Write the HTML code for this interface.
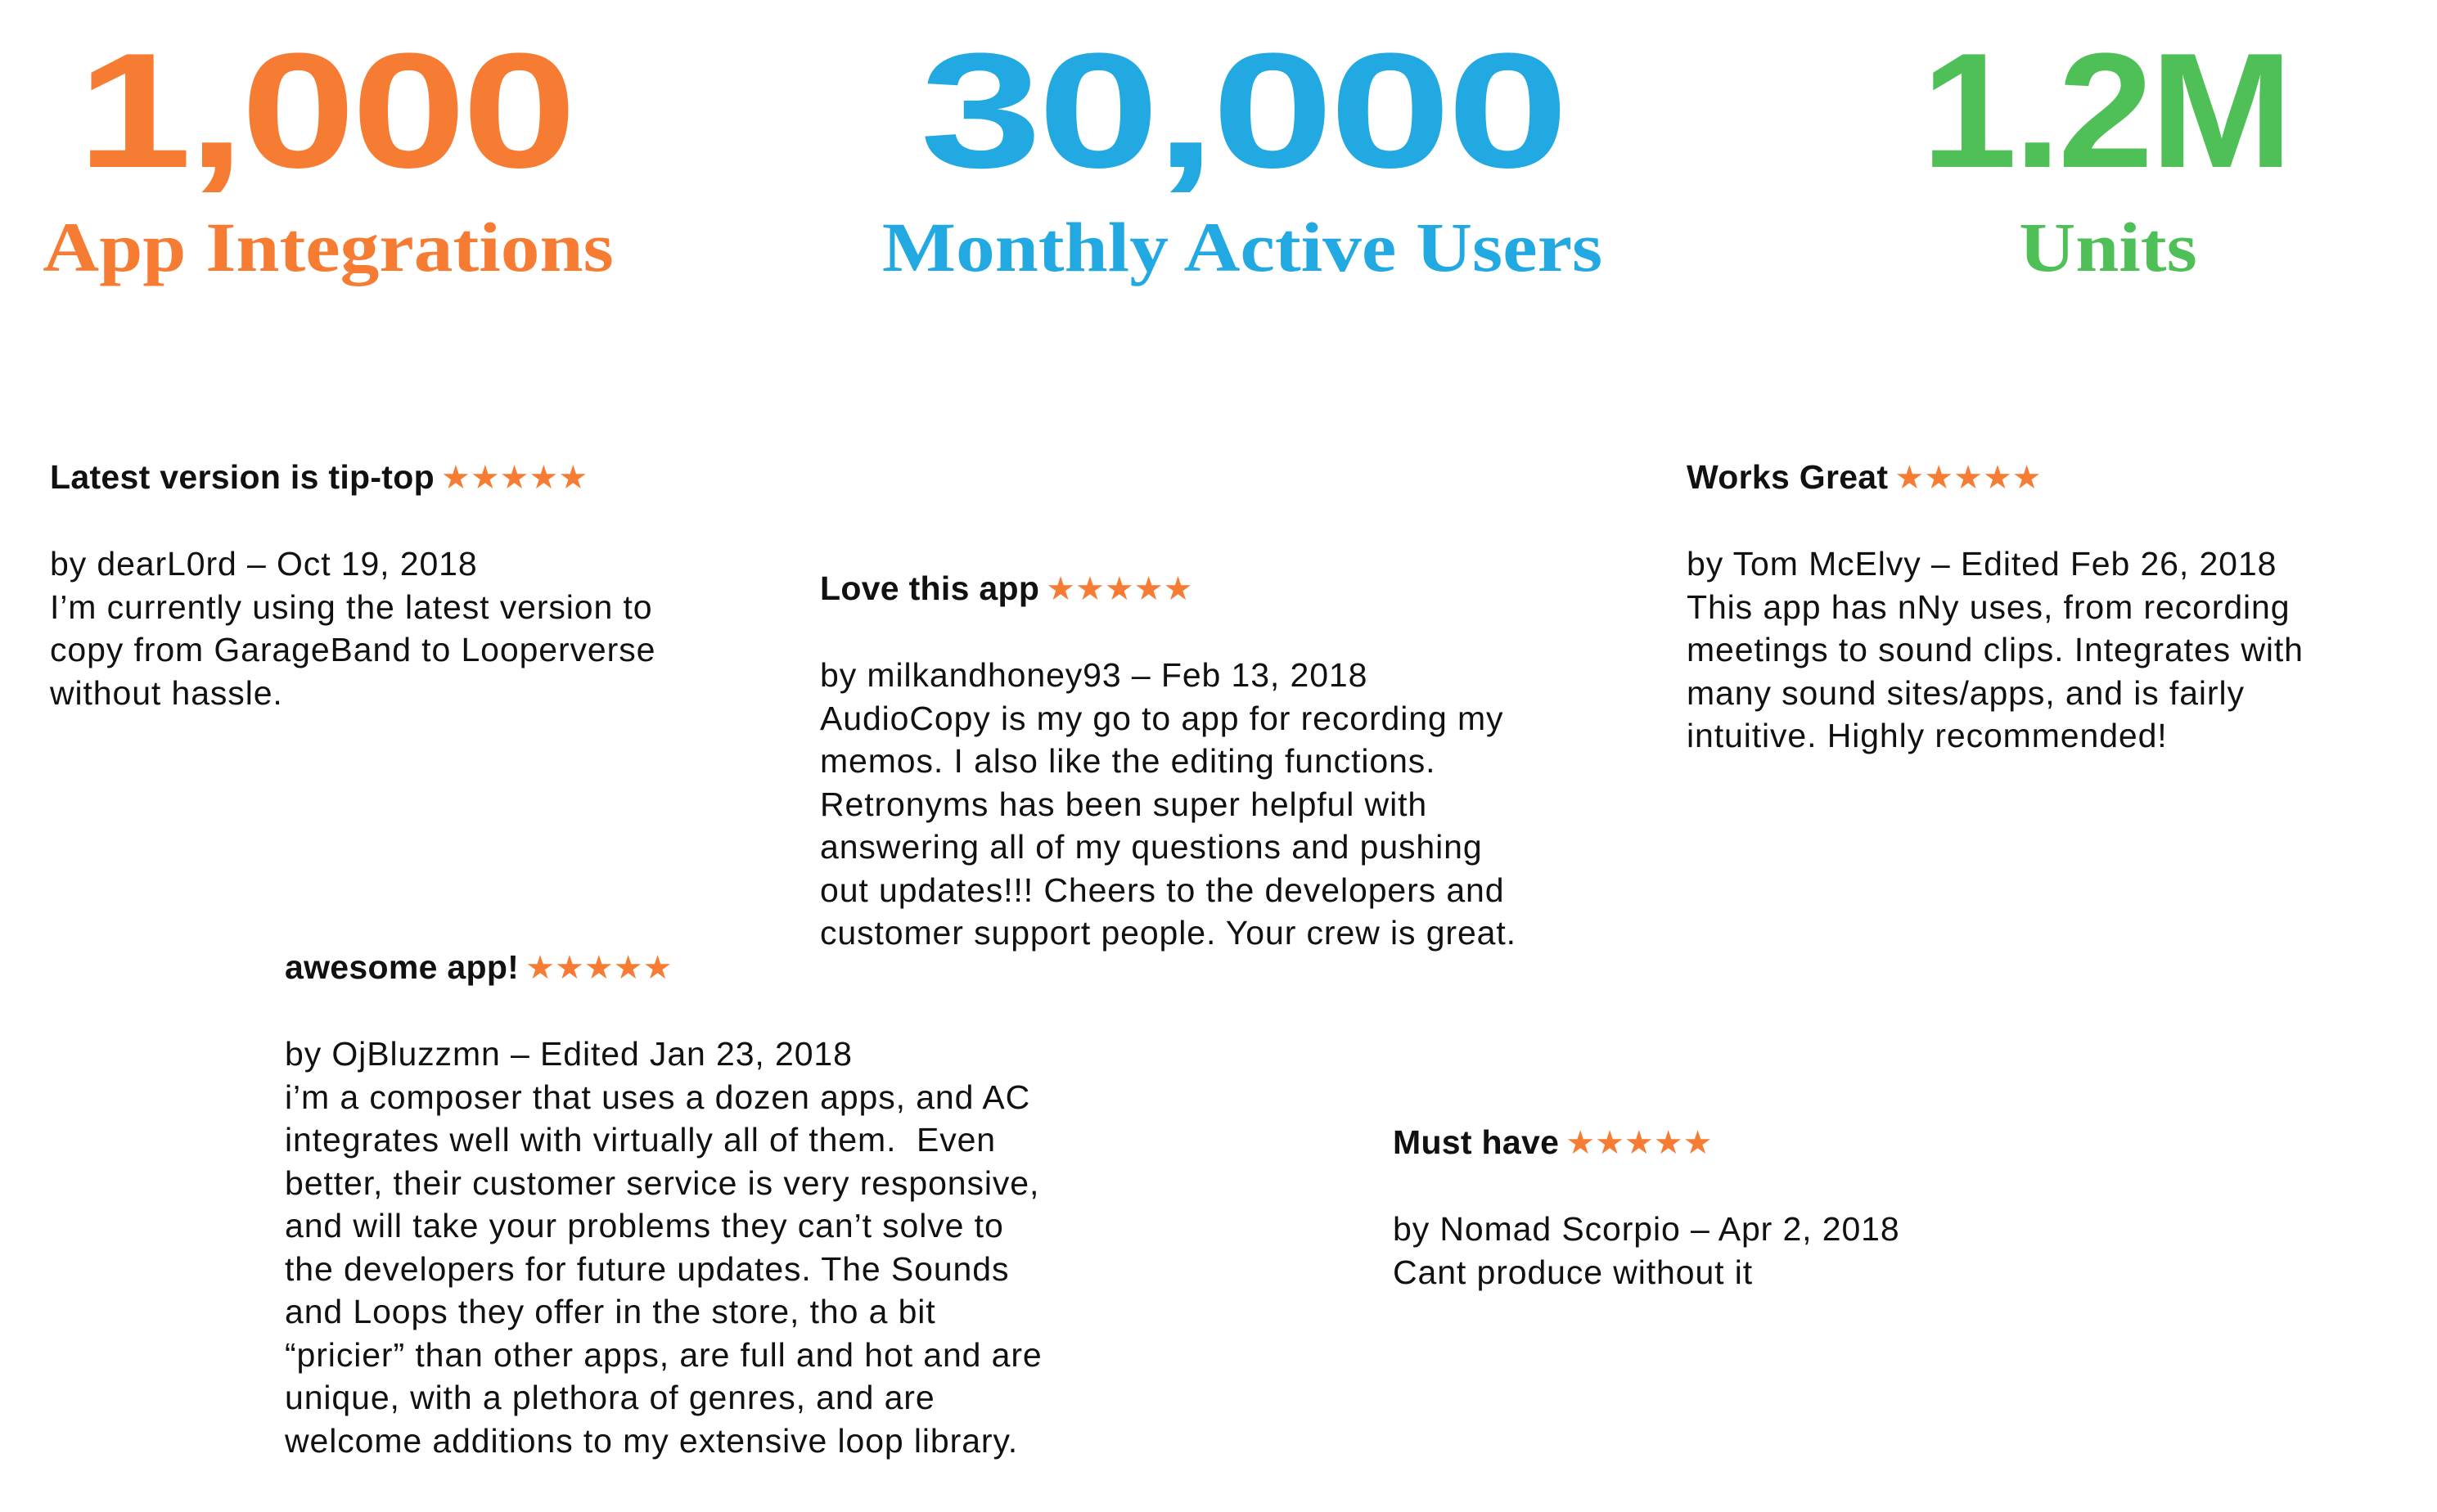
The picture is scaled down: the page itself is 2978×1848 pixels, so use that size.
<!DOCTYPE html>
<html><head><meta charset="utf-8"><style>
html,body{margin:0;padding:0;background:#fff;}
body{width:2978px;height:1848px;position:relative;overflow:hidden;font-family:"Liberation Sans",sans-serif;}
.num{position:absolute;top:36px;font-family:"Liberation Sans",sans-serif;font-weight:bold;font-size:200px;line-height:200px;text-align:center;width:1000px;letter-spacing:-4px;}
.lab{position:absolute;top:252px;font-family:"Liberation Serif",serif;font-weight:bold;font-size:86px;line-height:100px;text-align:center;width:1000px;transform:scaleX(1.11);}
.o{color:#f77c33}.b{color:#23a9e1}.g{color:#4fc057}
.r{position:absolute;font-size:41px;letter-spacing:0.9px;line-height:52.5px;color:#111;white-space:nowrap;}
.r b{font-weight:bold;letter-spacing:0.3px;}
.s{color:#f77c33;font-size:40px;letter-spacing:0px;margin-left:8px;}
</style></head><body>
<div class="num o" style="left:-103px;transform:scaleX(1.26)">1,000</div>
<div class="lab o" style="left:-99px">App Integrations</div>
<div class="num b" style="left:1018px;transform:scaleX(1.34)">30,000</div>
<div class="lab b" style="left:1018px">Monthly Active Users</div>
<div class="num g" style="left:2073px;transform:scaleX(1.05)">1.2M</div>
<div class="lab g" style="left:2076px">Units</div>

<div class="r" style="left:61px;top:557px"><b>Latest version is tip-top</b><span class="s">★★★★★</span><br><br>by dearL0rd – Oct 19, 2018<br>I’m currently using the latest version to<br>copy from GarageBand to Looperverse<br>without hassle.</div>

<div class="r" style="left:1002px;top:693px"><b>Love this app</b><span class="s">★★★★★</span><br><br>by milkandhoney93 – Feb 13, 2018<br>AudioCopy is my go to app for recording my<br>memos. I also like the editing functions.<br>Retronyms has been super helpful with<br>answering all of my questions and pushing<br>out updates!!! Cheers to the developers and<br>customer support people. Your crew is great.</div>

<div class="r" style="left:2061px;top:557px"><b>Works Great</b><span class="s">★★★★★</span><br><br>by Tom McElvy – Edited Feb 26, 2018<br>This app has nNy uses, from recording<br>meetings to sound clips. Integrates with<br>many sound sites/apps, and is fairly<br>intuitive. Highly recommended!</div>

<div class="r" style="left:348px;top:1156px"><b>awesome app!</b><span class="s">★★★★★</span><br><br>by OjBluzzmn – Edited Jan 23, 2018<br>i’m a composer that uses a dozen apps, and AC<br>integrates well with virtually all of them.&nbsp; Even<br>better, their customer service is very responsive,<br>and will take your problems they can’t solve to<br>the developers for future updates. The Sounds<br>and Loops they offer in the store, tho a bit<br>“pricier” than other apps, are full and hot and are<br>unique, with a plethora of genres, and are<br>welcome additions to my extensive loop library.</div>

<div class="r" style="left:1702px;top:1370px"><b>Must have</b><span class="s">★★★★★</span><br><br>by Nomad Scorpio – Apr 2, 2018<br>Cant produce without it</div>
</body></html>
